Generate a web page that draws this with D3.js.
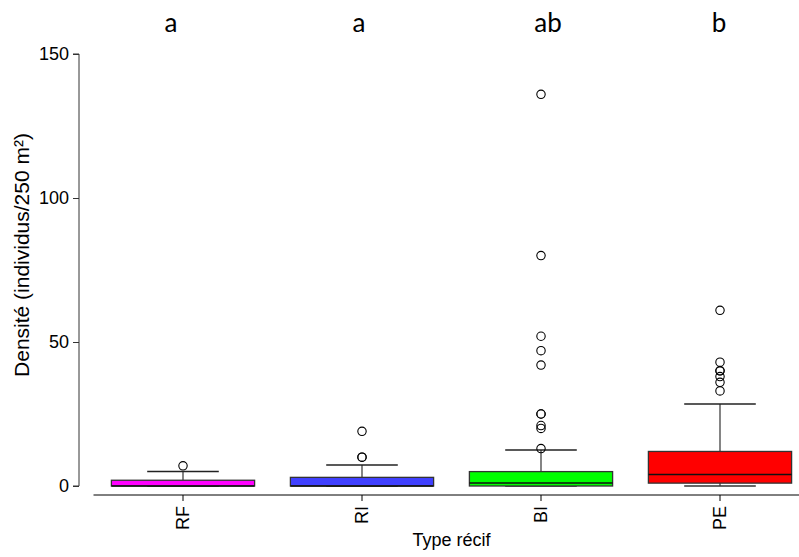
<!DOCTYPE html>
<html><head><meta charset="utf-8">
<script src="https://cdn.jsdelivr.net/npm/d3@7"></script>
<style>body{margin:0;background:#fff}svg{display:block}</style>
</head><body>
<script>
const categories = ["RF", "RI", "BI", "PE"];
const q1 = [0, 0, 0, 1];
const median = [0, 0, 1, 4];
const q3 = [2, 3, 5, 12];
const whiskerLow = [0, 0, 0, 0];
const whiskerHigh = [5, 7.3, 12.5, 28.5];
const outliers = [
  [7],
  [10, 10, 19],
  [13, 20, 21, 25, 25, 42, 47, 52, 80, 136],
  [33, 36, 38, 40, 40, 43, 61]
];
const fills = ["#ff00ff", "#4040ff", "#00ff00", "#ff0000"];
const letters = ["a", "a", "ab", "b"];
const yTicks = [0, 50, 100, 150];

const W = 799, H = 557;
const svg = d3.select("body").append("svg").attr("width", W).attr("height", H);
const x = d3.scaleBand().domain(categories).range([93.5, 809.5]).paddingInner(0.2).paddingOuter(0.1);
const y = d3.scaleLinear().domain([0, 150]).range([486, 54]);
const cx = c => x(c) + x.bandwidth() / 2;
const font = "'Liberation Sans', Arial, sans-serif";

// Y axis
const ya = svg.append("g").attr("transform", "translate(79,0)")
  .call(d3.axisLeft(y).tickValues(yTicks).tickSize(6).tickPadding(4));
ya.select(".domain").attr("stroke", "#333").attr("d", `M-6,${y(150)}H0V${y(0)}H-6`);
ya.selectAll(".tick line").attr("stroke", "#333");
ya.selectAll("text").attr("font-family", font).attr("font-size", 18).attr("fill", "#000");

// X axis
const xa = svg.append("g").attr("transform", "translate(0,495)")
  .call(d3.axisBottom(x).tickSize(6).tickSizeOuter(0));
xa.select(".domain").attr("stroke", "#000").attr("d", `M93.5,0H809.5`);
xa.selectAll(".tick line").attr("stroke", "#000");
xa.selectAll(".tick text")
  .attr("font-family", font).attr("font-size", 18).attr("fill", "#000")
  .attr("transform", "rotate(-90)").attr("text-anchor", "end")
  .attr("x", -11).attr("y", 0).attr("dy", "0.35em");

// Axis titles
svg.append("text").attr("x", (93.5 + 809.5) / 2).attr("y", 546)
  .attr("text-anchor", "middle").attr("font-family", font).attr("font-size", 18)
  .text("Type récif");
svg.append("text").attr("transform", `translate(28.5,255) rotate(-90)`)
  .attr("text-anchor", "middle").attr("font-family", font).attr("font-size", 21)
  .text("Densité (individus/250 m²)");

// Boxes
const g = svg.append("g");
categories.forEach((c, i) => {
  const xc = cx(c), bw = x.bandwidth(), cap = bw / 2;
  g.append("line").attr("x1", xc).attr("x2", xc).attr("y1", y(q3[i])).attr("y2", y(whiskerHigh[i]))
    .attr("stroke", "#333").attr("stroke-width", 1.2);
  g.append("line").attr("x1", xc).attr("x2", xc).attr("y1", y(q1[i])).attr("y2", y(whiskerLow[i]))
    .attr("stroke", "#333").attr("stroke-width", 1.2);
  g.append("line").attr("x1", xc - cap / 2).attr("x2", xc + cap / 2)
    .attr("y1", y(whiskerHigh[i])).attr("y2", y(whiskerHigh[i])).attr("stroke", "#222").attr("stroke-width", 1.5);
  g.append("line").attr("x1", xc - cap / 2).attr("x2", xc + cap / 2)
    .attr("y1", y(whiskerLow[i])).attr("y2", y(whiskerLow[i])).attr("stroke", "#333").attr("stroke-width", 1.5);
  const top = y(q3[i]), bot = y(q1[i]);
  g.append("rect").attr("x", x(c)).attr("width", bw).attr("y", top).attr("height", Math.max(bot - top, 1))
    .attr("fill", fills[i]).attr("stroke", "#333").attr("stroke-width", 1.3);
  g.append("line").attr("x1", x(c)).attr("x2", x(c) + bw)
    .attr("y1", y(median[i])).attr("y2", y(median[i])).attr("stroke", "#111").attr("stroke-width", 1.5);
  outliers[i].forEach(v => {
    g.append("circle").attr("cx", xc).attr("cy", y(v)).attr("r", 4.2)
      .attr("fill", "none").attr("stroke", "#000").attr("stroke-width", 1.1);
  });
});

// Significance letters
const letterOffset = [-12, -3, 7, -1];
categories.forEach((c, i) => {
  svg.append("text").attr("x", cx(c) + letterOffset[i]).attr("y", 32)
    .attr("text-anchor", "middle").attr("font-family", "Lato, 'Open Sans', sans-serif")
    .attr("font-size", 26).attr("fill", "#000").text(letters[i]);
});
</script>
</body></html>
